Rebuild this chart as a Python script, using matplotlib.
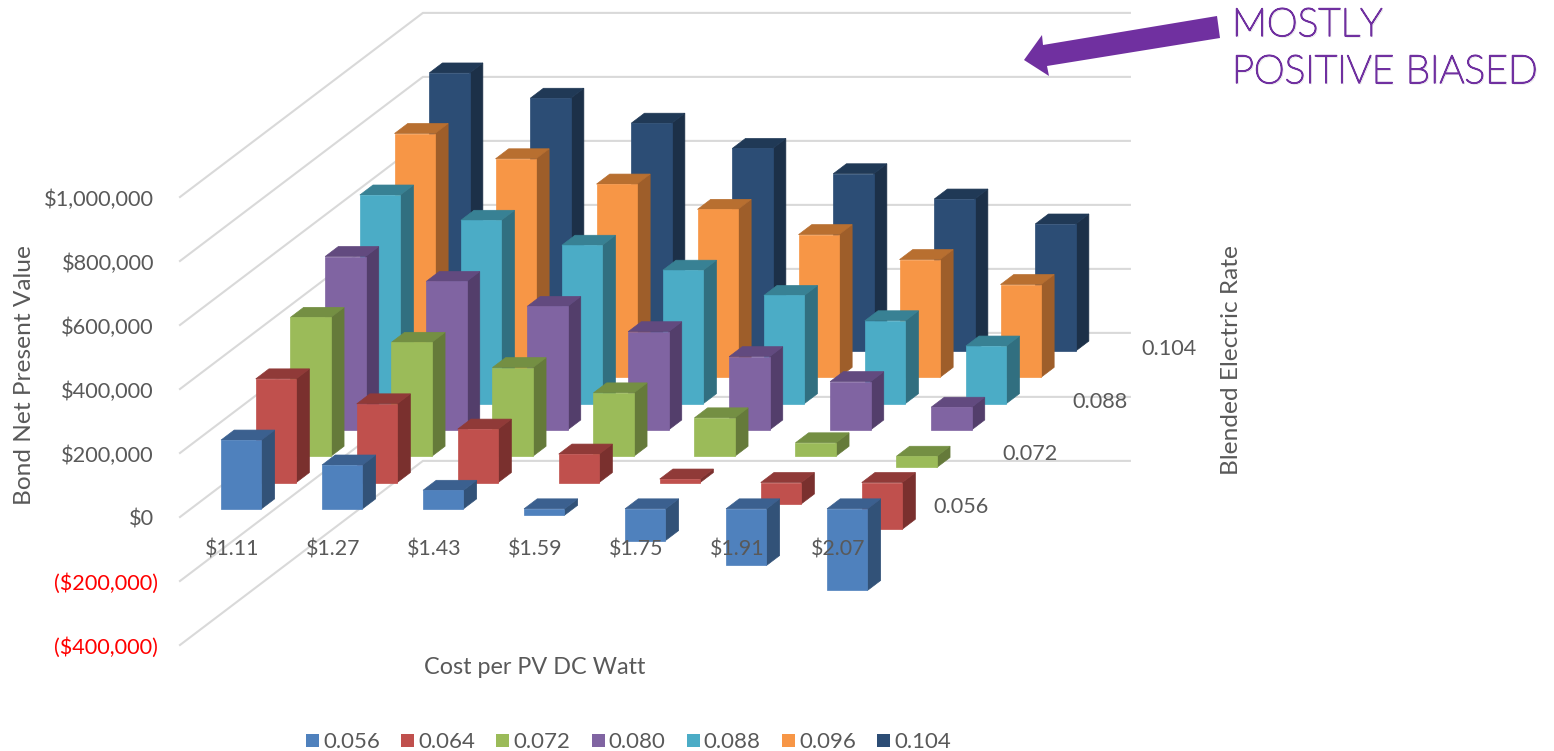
import matplotlib
matplotlib.use("Agg")
import matplotlib.pyplot as plt
import matplotlib.patheffects as pe
from matplotlib.patches import Polygon

# bond NPV by cost per watt (columns) and blended electric rate (rows)
costs = ["$1.11", "$1.27", "$1.43", "$1.59", "$1.75", "$1.91", "$2.07"]
rates = ["0.056", "0.064", "0.072", "0.080", "0.088", "0.096", "0.104"]
npv_056 = [215000, 137000, 58000, -20000, -99000, -177000, -255000]
npv_064 = [324000, 246000, 167000, 89000, 11000, -67000, -146000]
npv_072 = [434000, 356000, 277000, 198000, 120000, 42000, -35000]
npv_080 = [542000, 464000, 386000, 307000, 229000, 151000, 71000]
npv_088 = [652000, 573000, 495000, 417000, 338000, 259000, 180000]
npv_096 = [762000, 683000, 604000, 525000, 446000, 368000, 290000]
npv_104 = [869000, 790000, 712000, 633000, 554000, 475000, 397000]
all_npv = [npv_056, npv_064, npv_072, npv_080, npv_088, npv_096, npv_104]

value_ticks = [-400000, -200000, 0, 200000, 400000, 600000, 800000, 1000000]
depth_labels = ["0.056", "0.072", "0.088", "0.104"]

# front, side, top colours of each series
face_colors = ["#4f81bd", "#c0504d", "#9bbb59", "#8064a2", "#4bacc6", "#f79646", "#2c4d75"]
side_colors = ["#325278", "#7a302e", "#657a3a", "#533e6b", "#316f80", "#9e5e2a", "#1c3048"]
top_colors = ["#3b608f", "#903a38", "#748f43", "#624a7f", "#388194", "#b86f30", "#203956"]

GREY = "#595959"
PURPLE = "#7030a0"
FONT = "Lato"

# oblique projection of the 3D box, in figure pixels
ORIGIN_X, ORIGIN_Y = 180.0, 517.0
COST_STEP = 101.0
RATE_DX, RATE_DY = 34.7, -26.3
PX_PER_DOLLAR = 64.0 / 200000


def project(cost_pos, rate_pos, value):
    x = ORIGIN_X + COST_STEP * cost_pos + RATE_DX * rate_pos
    y = ORIGIN_Y + RATE_DY * rate_pos - PX_PER_DOLLAR * value
    return x, y


def draw_bar(ax, i, j, value):
    left, right = i + 0.3, i + 0.7
    near, far = j + 0.31, j + 0.69
    high, low = max(value, 0), min(value, 0)

    front = [project(left, near, low), project(right, near, low),
             project(right, near, high), project(left, near, high)]
    side = [project(right, near, low), project(right, far, low),
            project(right, far, high), project(right, near, high)]
    top = [project(left, near, high), project(right, near, high),
           project(right, far, high), project(left, far, high)]

    for pts, color in [(side, side_colors[j]), (top, top_colors[j]), (front, face_colors[j])]:
        ax.add_patch(Polygon(pts, closed=True, facecolor=color, edgecolor=color, lw=0.5, zorder=2))


fig = plt.figure(figsize=(15.54, 7.51), dpi=100)
ax = fig.add_axes([0, 0, 1, 1])
ax.set_xlim(0, 1554)
ax.set_ylim(751, 0)
ax.axis("off")

# wall gridlines and value labels
n_cost, n_rate = len(costs), len(rates)
for v in value_ticks:
    pts = [project(0, 0, v), project(0, n_rate, v), project(n_cost, n_rate, v)]
    ax.plot(*zip(*pts), color="#d9d9d9", lw=1.5, solid_joinstyle="miter", zorder=1)
    y = project(0, 0, v)[1] + 2.5
    if v >= 0:
        ax.text(154, y, f"${v:,.0f}", ha="right", va="center", fontsize=15.7,
                family=FONT, color=GREY, zorder=3)
    else:
        ax.text(158, y, f"(${-v:,.0f})", ha="right", va="center", fontsize=15.6,
                family=FONT, color="#ff0000", zorder=3)

for j in range(n_rate - 1, -1, -1):
    for i in range(n_cost):
        draw_bar(ax, i, j, all_npv[j][i])

# axis labels sit on top of the bars
for i, cost in enumerate(costs):
    ax.text(project(i, 0, 0)[0] + 52, 549, cost, ha="center", va="center",
            fontsize=15.4, family=FONT, color=GREY, zorder=3)
for rate in depth_labels:
    x, y = project(n_cost, rates.index(rate), 0)
    ax.text(x + 74, y - 10, rate, ha="center", va="center",
            fontsize=15.6, family=FONT, color=GREY, zorder=3)

ax.text(25, 375, "Bond Net Present Value", rotation=90, ha="center", va="center",
        fontsize=17.6, family=FONT, color=GREY)
ax.text(1231, 360, "Blended Electric Rate", rotation=90, ha="center", va="center",
        fontsize=17.6, family=FONT, color=GREY)
ax.text(535, 668, "Cost per PV DC Watt", ha="center", va="center",
        fontsize=16.8, family=FONT, color=GREY)

# legend row
for k, rate in enumerate(rates):
    x0 = 306 + 95.2 * k
    ax.add_patch(plt.Rectangle((x0, 734), 13, 13, facecolor=face_colors[k], edgecolor="none"))
    ax.text(x0 + 17, 742.5, rate, ha="left", va="center", fontsize=16, family=FONT, color=GREY)

# callout
arrow_pts = [(1217, 16), (1220, 38), (1047, 66), (1049, 76), (1024, 60), (1042, 35), (1043, 45)]
ax.add_patch(Polygon(arrow_pts, closed=True, facecolor=PURPLE, edgecolor="none", zorder=3))
# light weight thickened a little, with a faint drop shadow
heavier = [pe.withSimplePatchShadow(offset=(1, -1), shadow_rgbFace="#888888", alpha=0.35),
           pe.withStroke(linewidth=1.1, foreground=PURPLE)]
for text, y in [("MOSTLY", 25), ("POSITIVE BIASED", 72)]:
    t = ax.text(1232, y, text, ha="left", va="center", fontsize=28.2, family=FONT,
                weight="light", color=PURPLE, zorder=3)
    t.set_path_effects(heavier)

fig.savefig("out.png", dpi=100)
plt.close(fig)
